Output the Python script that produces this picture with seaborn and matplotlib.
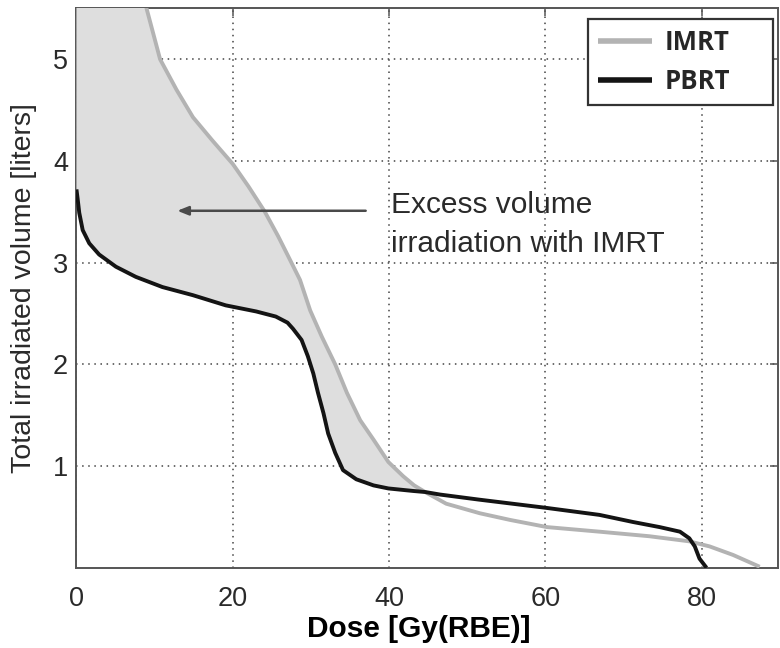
import numpy as np
import pandas as pd
import matplotlib
matplotlib.use("Agg")
import matplotlib.pyplot as plt
import seaborn as sns

# ---- data ----
imrt_dose = [0, 4, 7, 9.0, 10.7, 12.8, 14.9, 17.4, 20.0, 22.0, 24.1, 25.8, 27.5, 28.6,
             29.9, 31.4, 33.1, 34.6, 36.3, 38.0, 39.9, 41.8, 43.2, 44.6, 47.3, 51.6,
             55.5, 60.2, 66.9, 73.3, 78.4, 81.0, 84.0, 87.4]
imrt_vol = [9.4, 7.3, 6.2, 5.49, 5.0, 4.7, 4.43, 4.2, 3.97, 3.75, 3.5, 3.26, 3.0, 2.83,
            2.53, 2.27, 2.0, 1.72, 1.45, 1.26, 1.04, 0.90, 0.81, 0.745, 0.63, 0.536,
            0.47, 0.40, 0.355, 0.31, 0.26, 0.21, 0.126, 0.01]

pbrt_dose = [0, 0.15, 0.36, 0.8, 1.64, 2.9, 5.05, 7.6, 11.0, 14.9, 19.1, 23.0, 25.5,
             27.0, 27.7, 28.8, 29.6, 30.3, 30.9, 31.6, 32.2, 33.1, 34.1, 35.8, 38.0,
             39.9, 43.1, 44.6, 46.5, 51.5, 60.0, 66.9, 71.2, 74.6, 77.2, 78.4, 79.1,
             79.7, 80.6]
pbrt_vol = [3.72, 3.63, 3.49, 3.32, 3.19, 3.08, 2.96, 2.86, 2.76, 2.68, 2.58, 2.52, 2.47,
            2.41, 2.35, 2.24, 2.08, 1.91, 1.72, 1.52, 1.32, 1.13, 0.96, 0.87, 0.81,
            0.78, 0.755, 0.745, 0.72, 0.67, 0.59, 0.52, 0.45, 0.40, 0.355, 0.29, 0.21,
            0.09, 0.0]

plans = ["IMRT", "PBRT"]
x_ticks = [0, 20, 40, 60, 80]
y_ticks = [1, 2, 3, 4, 5]
crossing_dose = 44.6

sns.set_theme(style="white")
plt.rcParams["font.family"] = ["Liberation Sans", "DejaVu Sans"]

df = pd.concat([
    pd.DataFrame({"dose": imrt_dose, "vol": imrt_vol, "plan": "IMRT"}),
    pd.DataFrame({"dose": pbrt_dose, "vol": pbrt_vol, "plan": "PBRT"}),
], ignore_index=True)

fig = plt.figure(figsize=(7.8, 6.48), dpi=100)
ax = fig.add_axes([0.098, 0.1238, 0.9, 0.8633])

palette = {"IMRT": "#b3b3b3", "PBRT": "#141414"}
sns.lineplot(data=df, x="dose", y="vol", hue="plan", hue_order=plans, palette=palette,
             sort=False, estimator=None, linewidth=2.8, ax=ax, zorder=4)
for ln in ax.lines:
    ln.set_solid_joinstyle("round")
    ln.set_solid_capstyle("butt")

# shaded excess-volume region (polygon built from the two series)
imrt_part = [(d, v) for d, v in zip(imrt_dose, imrt_vol) if d <= crossing_dose]
pbrt_part = [(d, v) for d, v in zip(pbrt_dose, pbrt_vol) if d <= crossing_dose]
poly = imrt_part + pbrt_part[::-1]
ax.fill([p[0] for p in poly], [p[1] for p in poly], color="#dedede", lw=0, zorder=2.6)

ax.set_xlim(0, 89.8)
ax.set_ylim(0, 5.5)
ax.set_xticks(x_ticks)
ax.set_yticks(y_ticks)
ax.set_axisbelow(True)
ax.grid(True, linestyle=(0, (1, 3)), color="#444444", linewidth=1.1)
for s in ax.spines.values():
    s.set_color("#555555")
    s.set_linewidth(1.4)
    s.set_visible(True)
ax.tick_params(direction="in", top=True, right=True, length=6, width=1.1,
               color="#555555", labelsize=19.5, labelcolor="#2a2a2a")
ax.tick_params(axis="x", pad=13)
ax.tick_params(axis="y", pad=6)

ax.set_xlabel("Dose [Gy(RBE)]", fontsize=21.5, fontweight="bold", color="black")
ax.set_ylabel("Total irradiated volume [liters]", fontsize=20.5, color="#2a2a2a")
ax.xaxis.set_label_coords(0.488, -0.085)
ax.yaxis.set_label_coords(-0.056, 0.5)

# annotation
ax.annotate("", xy=(12.9, 3.51), xytext=(37.0, 3.51),
            arrowprops=dict(arrowstyle="-|>,head_length=0.55,head_width=0.22",
                            color="#4a4a4a", lw=1.8, shrinkA=0, shrinkB=0), zorder=5)
ax.text(40.2, 3.486, "Excess volume", fontsize=21.5, color="#2a2a2a", va="baseline",
        ha="left", zorder=5)
ax.text(40.2, 3.10, "irradiation with IMRT", fontsize=21.5, color="#2a2a2a",
        va="baseline", ha="left", zorder=5)

# legend (MATLAB-like wide box)
handles, labels = ax.get_legend_handles_labels()
leg = ax.legend(handles, labels, loc="upper left", mode="expand",
                bbox_to_anchor=(0.7286, 0.5, 0.2635, 0.481),
                borderaxespad=0, frameon=True, fancybox=False, framealpha=1,
                edgecolor="#333333", handlelength=2.1, handletextpad=0.5,
                labelspacing=0.45, borderpad=0.4,
                prop={"family": "Open Sans", "weight": "bold", "size": 18.5})
leg.get_frame().set_linewidth(1.6)
for lh in leg.get_lines():
    lh.set_linewidth(4)
leg.set_zorder(6)

fig.savefig("out.png", dpi=100)
